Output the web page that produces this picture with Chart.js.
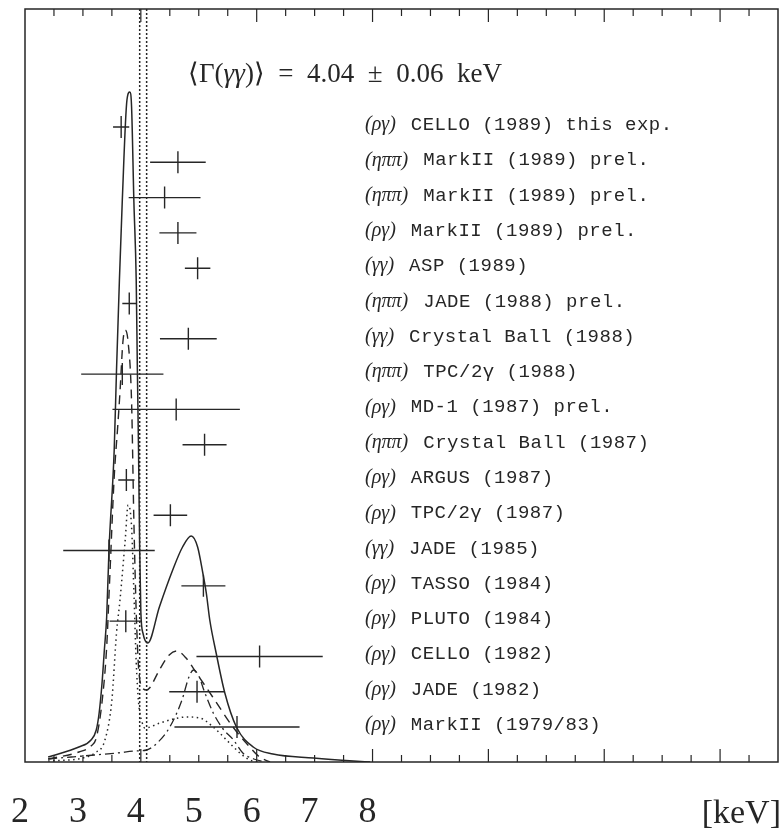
<!DOCTYPE html>
<html>
<head>
<meta charset="utf-8">
<script src="https://cdn.jsdelivr.net/npm/chart.js@4/dist/chart.umd.min.js"></script>
<style>
  html, body { margin: 0; padding: 0; background: #fff; }
</style>
</head>
<body>
<canvas id="gammaChart" width="782" height="832"></canvas>
<script>
// world average
const meanGamma = 4.04;
const meanErr = 0.06;

// measurements, top to bottom
const channels = ['ργ', 'ηππ', 'ηππ', 'ργ', 'γγ', 'ηππ', 'γγ', 'ηππ', 'ργ',
                  'ηππ', 'ργ', 'ργ', 'γγ', 'ργ', 'ργ', 'ργ', 'ργ', 'ργ'];
const experiments = ['CELLO (1989) this exp.', 'MarkII (1989) prel.', 'MarkII (1989) prel.',
                     'MarkII (1989) prel.', 'ASP (1989)', 'JADE (1988) prel.',
                     'Crystal Ball (1988)', 'TPC/2γ (1988)', 'MD-1 (1987) prel.',
                     'Crystal Ball (1987)', 'ARGUS (1987)', 'TPC/2γ (1987)', 'JADE (1985)',
                     'TASSO (1984)', 'PLUTO (1984)', 'CELLO (1982)', 'JADE (1982)', 'MarkII (1979/83)'];
const widths = [3.66, 4.64, 4.41, 4.64, 4.98, 3.80, 4.82, 3.68, 4.61,
                5.10, 3.75, 4.51, 3.45, 5.08, 3.74, 6.05, 4.97, 5.66];
const errors = [0.14, 0.48, 0.62, 0.32, 0.22, 0.12, 0.49, 0.71, 1.10,
                0.38, 0.14, 0.29, 0.79, 0.38, 0.28, 1.09, 0.48, 1.08];

// ideogram curves (keV, arbitrary height)
const totalKeV = [2.40, 2.93, 3.14, 3.23, 3.28, 3.33, 3.37, 3.41, 3.45, 3.54, 3.58, 3.63, 3.68, 3.76,
                  3.81, 3.84, 3.88, 3.92, 3.94, 3.96, 3.98, 4.00, 4.04, 4.12, 4.32, 4.55, 4.72, 4.87,
                  4.98, 5.07, 5.13, 5.19, 5.30, 5.45, 5.65, 5.94, 6.28, 6.98, 7.67, 7.96];
const totalVal = [5, 15, 22, 32, 49, 79, 112, 145, 212, 312, 392, 482, 562, 662,
                  670, 655, 560, 482, 392, 312, 212, 150, 128, 119, 155, 192, 215, 226,
                  215, 189, 169, 142, 109, 69, 35, 15, 8, 4, 1, 0];

const rhoKeV = [2.40, 2.93, 3.14, 3.23, 3.33, 3.41, 3.46, 3.54, 3.60, 3.64, 3.69, 3.73, 3.78, 3.84,
                3.88, 3.92, 3.96, 4.02, 4.10, 4.15, 4.32, 4.49, 4.62, 4.78, 4.96, 5.24, 5.59, 5.88,
                6.05, 6.23];
const rhoVal = [3, 10, 16, 24, 60, 115, 180, 285, 335, 370, 420, 432, 420, 360,
                240, 150, 95, 75, 72, 74, 92, 107, 111, 104, 89, 65, 35, 15,
                5, 0];

const etaKeV = [2.40, 3.00, 3.20, 3.38, 3.50, 3.58, 3.64, 3.73, 3.78, 3.84, 3.88, 3.92, 3.96, 4.02,
                4.07, 4.33, 4.56, 4.79, 5.02, 5.25, 5.48, 5.71, 5.88, 6.05];
const etaVal = [1, 4, 9, 22, 62, 129, 162, 222, 257, 235, 170, 100, 60, 40,
                34, 39, 43, 45, 44, 35, 22, 9, 2, 0];

const ggKeV = [2.40, 2.80, 3.20, 3.60, 3.90, 4.10, 4.30, 4.50, 4.71, 4.83, 4.91, 5.00, 5.10, 5.25,
               5.42, 5.60, 5.76, 5.95, 6.15];
const ggVal = [3, 5, 7, 9, 11, 12, 20, 35, 62, 85, 92, 86, 70, 49,
               33, 22, 9, 3, 0];

const xLabels = [2, 3, 4, 5, 6, 7, 8];

const ink = '#262626';

function curve(xs, ys, dash, width) {
    return {
        data: xs.map((v, i) => ({ x: v, y: ys[i] })),
        yAxisID: 'y',
        showLine: true,
        borderColor: ink,
        borderWidth: width,
        borderDash: dash,
        pointRadius: 0,
        cubicInterpolationMode: 'monotone'
    };
}

const overlay = {
    id: 'overlay',
    afterDatasetsDraw(chart) {
        const ctx = chart.ctx;
        const a = chart.chartArea;
        const x = chart.scales.x;
        const yr = chart.scales.yr;
        ctx.save();
        ctx.strokeStyle = ink;
        ctx.fillStyle = ink;

        // band of the mean
        ctx.lineWidth = 1.5;
        ctx.setLineDash([2, 2]);
        [meanGamma - meanErr, meanGamma + meanErr].forEach(v => {
            const px = x.getPixelForValue(v);
            ctx.beginPath();
            ctx.moveTo(px, a.top);
            ctx.lineTo(px, a.bottom);
            ctx.stroke();
        });
        ctx.setLineDash([]);

        // frame and inward ticks
        ctx.lineWidth = 1.5;
        ctx.strokeRect(a.left, a.top, a.right - a.left, a.bottom - a.top);
        ctx.lineWidth = 1.2;
        x.ticks.forEach(t => {
            if (t.value <= x.min || t.value >= x.max) return;
            const px = x.getPixelForValue(t.value);
            const len = t.value % 2 === 0 ? 13 : 7;
            ctx.beginPath();
            ctx.moveTo(px, a.bottom);
            ctx.lineTo(px, a.bottom - len);
            ctx.moveTo(px, a.top);
            ctx.lineTo(px, a.top + len);
            ctx.stroke();
        });

        // measurements with error bars
        ctx.lineWidth = 1.4;
        widths.forEach((w, i) => {
            const py = yr.getPixelForValue(i);
            const cx = x.getPixelForValue(w);
            ctx.beginPath();
            ctx.moveTo(x.getPixelForValue(w - errors[i]), py);
            ctx.lineTo(x.getPixelForValue(w + errors[i]), py);
            ctx.moveTo(cx, py - 11);
            ctx.lineTo(cx, py + 11);
            ctx.stroke();
        });

        // labels
        ctx.textBaseline = 'middle';
        ctx.textAlign = 'left';
        const textX = 365;
        channels.forEach((ch, i) => {
            const py = yr.getPixelForValue(i) - 2;
            ctx.letterSpacing = '0px';
            ctx.font = 'italic 20px "Liberation Serif"';
            const pre = '(' + ch + ')';
            ctx.fillText(pre, textX, py);
            const pw = ctx.measureText(pre).width;
            ctx.font = '19px "Liberation Mono"';
            ctx.letterSpacing = '0.5px';
            ctx.fillText(experiments[i], textX + pw + 15, py);
        });
        ctx.letterSpacing = '0px';

        // average
        ctx.textBaseline = 'alphabetic';
        let tx = 188;
        const ty = 82;
        [['⟨Γ(', ''], ['γγ', 'italic '], [')⟩  =  4.04  ±  0.06  keV', '']].forEach(p => {
            ctx.font = p[1] + '27px "Liberation Serif"';
            ctx.fillText(p[0], tx, ty);
            tx += ctx.measureText(p[0]).width;
        });

        // unit
        ctx.font = '34px "Liberation Serif"';
        ctx.textAlign = 'right';
        ctx.fillText('[keV]', 781, 823);
        ctx.restore();
    }
};

new Chart(document.getElementById('gammaChart').getContext('2d'), {
    type: 'scatter',
    data: {
        datasets: [
            curve(totalKeV, totalVal, [], 1.5),
            curve(rhoKeV, rhoVal, [9, 6], 1.4),
            curve(etaKeV, etaVal, [1.5, 3.5], 1.5),
            curve(ggKeV, ggVal, [9, 4, 2, 4], 1.3)
        ]
    },
    options: {
        responsive: false,
        animation: false,
        layout: { padding: { left: 25, right: 4, top: 9, bottom: 0 } },
        plugins: {
            legend: { display: false },
            tooltip: { enabled: false }
        },
        scales: {
            x: {
                type: 'linear',
                min: 2,
                max: 15,
                grid: { display: false, drawTicks: false },
                border: { display: false },
                afterFit: s => {
                    s.height = 70;
                    s.paddingLeft = 0;
                    s.paddingRight = 0;
                },
                ticks: {
                    stepSize: 0.5,
                    autoSkip: false,
                    maxRotation: 0,
                    padding: 29,
                    labelOffset: -5,
                    color: ink,
                    font: { family: 'Liberation Serif', size: 36 },
                    callback: v => xLabels.includes(v) ? String(v) : ''
                }
            },
            y: { type: 'linear', min: 0, max: 753, display: false },
            yr: { type: 'linear', min: -3.343, max: 17.99, reverse: true, display: false }
        }
    },
    plugins: [overlay]
});
</script>
</body>
</html>
